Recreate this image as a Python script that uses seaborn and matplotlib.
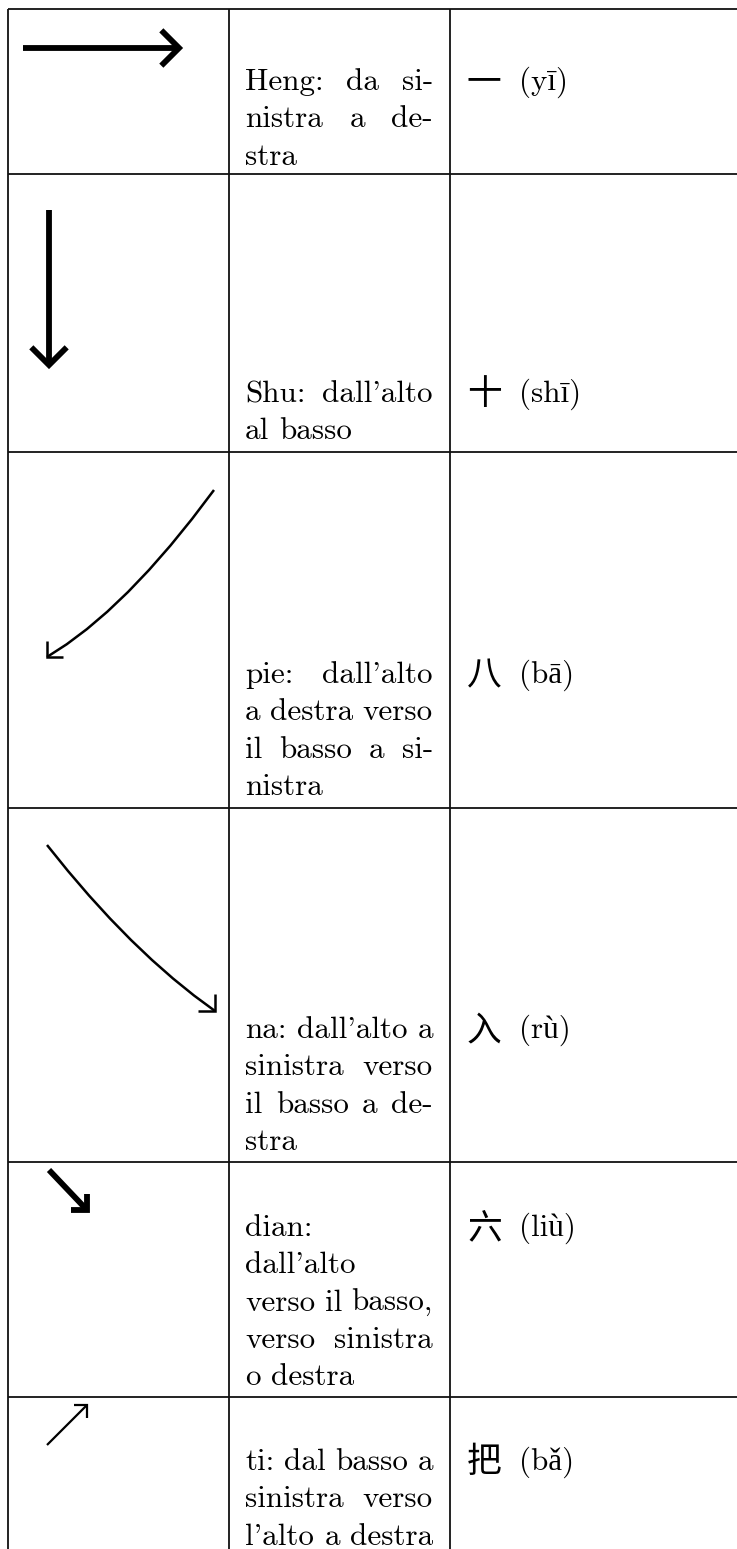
import numpy as np
import matplotlib
matplotlib.use("Agg")
import matplotlib.pyplot as plt
import seaborn as sns

sns.set_theme(style="white")
plt.rcParams["font.family"] = ["cmr10", "Liberation Serif", "DejaVu Serif"]
plt.rcParams["axes.formatter.use_mathtext"] = True

# table content
descriptions = [
    ["Heng: da si-", "nistra a de-", "stra"],
    ["Shu: dall'alto", "al basso"],
    ["pie: dall'alto", "a destra verso", "il basso a si-", "nistra"],
    ["na: dall'alto a", "sinistra verso", "il basso a de-", "stra"],
    ["dian:", "dall'alto", "verso il basso,", "verso sinistra", "o destra"],
    ["ti: dal basso a", "sinistra verso", "l'alto a destra"],
]
hanzi = ["一", "十", "八", "入", "六", "把"]
pinyin = ["(yī)", "(shī)", "(bā)", "(rù)", "(liù)", "(bǎ)"]

# stroke drawings (pixel space of the page, y down)
heng_x = [23, 179]
heng_y = [48, 48]
shu_x = [49, 49]
shu_y = [210, 365]
pie_x = [214, 192, 170.4, 149, 128, 107.3, 86.9, 66.8, 47]
pie_y = [490, 519, 545.6, 570, 592, 611.7, 629.1, 644.2, 657]
na_x = [47, 68, 89, 110, 131, 152, 173, 194, 215]
na_y = [845, 871, 895.5, 918.5, 940, 960, 978.5, 995.5, 1011]
dian_x = [49, 87]
dian_y = [1170, 1210]
ti_x = [47, 87]
ti_y = [1445, 1405]

strokes = [(heng_x, heng_y), (shu_x, shu_y), (pie_x, pie_y),
           (na_x, na_y), (dian_x, dian_y), (ti_x, ti_y)]
head_dir = [0, 90, 135, 45, 45, -45]
head_len = [25, 25, 16, 17, 16, 13]
stroke_lw = [4.2, 4.2, 1.8, 1.8, 4.2, 1.6]

# layout
W, H = 737, 1549
row_lines = [9, 174, 452, 808, 1162, 1397]
col_lines = [8, 229, 450]
first_base = [90, 402, 683, 1038, 1236, 1470]
LEAD = 37.3
TEXT_L, TEXT_R = 245, 433
FS = 22.4
SPACE = 10.4

fig = plt.figure(figsize=(W / 100, H / 100), dpi=100)
ax = fig.add_axes([0, 0, 1, 1])
ax.set_xlim(0, W)
ax.set_ylim(H, 0)
ax.axis("off")
renderer = fig.canvas.get_renderer()

# rules
ax.hlines(row_lines, col_lines[0], W, color="#111111", lw=1.3)
ax.vlines(col_lines, row_lines[0], H, color="#111111", lw=1.3)


def place_line(words, y, justify):
    texts = [ax.text(0, y, w, fontsize=FS, va="baseline", ha="left", color="black")
             for w in words]
    widths = [t.get_window_extent(renderer).width for t in texts]
    if justify and len(words) > 1:
        gap = (TEXT_R - TEXT_L - sum(widths)) / (len(words) - 1)
    else:
        gap = SPACE
    x = TEXT_L
    for t, w in zip(texts, widths):
        t.set_x(x)
        x += w + gap


for i, lines in enumerate(descriptions):
    for j, line in enumerate(lines):
        last = j == len(lines) - 1
        place_line(line.split(" "), first_base[i] + j * LEAD, not last)
    ax.text(467, first_base[i] + 2, hanzi[i], fontsize=25, va="baseline",
            family=["Noto Sans CJK SC"], fontweight="light", color="black")
    ax.text(519, first_base[i], pinyin[i], fontsize=FS, va="baseline", color="black")

# strokes with their arrow heads
for (xs, ys), th, L, lw in zip(strokes, head_dir, head_len, stroke_lw):
    sns.lineplot(x=xs, y=ys, sort=False, estimator=None, color="black",
                 linewidth=lw, ax=ax, solid_capstyle="butt")
    tx, ty = xs[-1], ys[-1]
    a1 = np.deg2rad(th + 45)
    a2 = np.deg2rad(th - 45)
    hx = [tx - L * np.cos(a1), tx, tx - L * np.cos(a2)]
    hy = [ty - L * np.sin(a1), ty, ty - L * np.sin(a2)]
    sns.lineplot(x=hx, y=hy, sort=False, estimator=None, color="black",
                 linewidth=lw, ax=ax, solid_joinstyle="miter", solid_capstyle="butt")

ax.set_xlim(0, W)
ax.set_ylim(H, 0)
ax.axis("off")
fig.savefig("out.png", dpi=100, facecolor="white")
